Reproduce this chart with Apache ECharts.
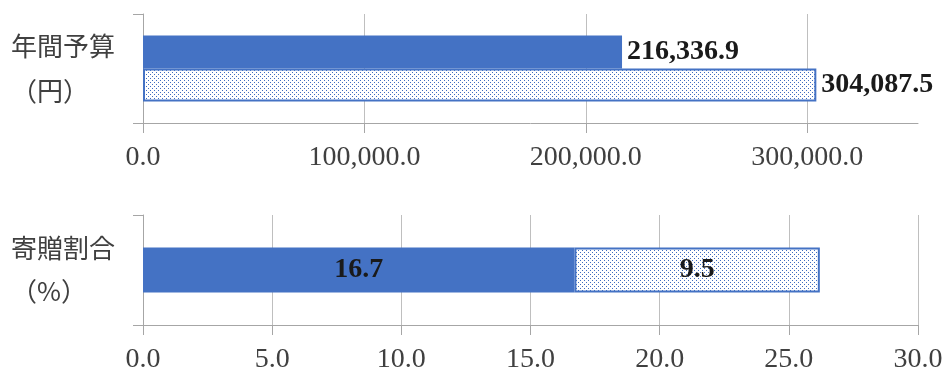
<!DOCTYPE html>
<html>
<head>
<meta charset="utf-8">
<script src="https://cdn.jsdelivr.net/npm/echarts@6/dist/echarts.min.js"></script>
<style>
  html, body { margin: 0; padding: 0; background: #fff; }
  #chart { width: 946px; height: 374px; }
</style>
</head>
<body>
<div id="chart"></div>
<script>
// Annual budget panel (yen)
const budgetCategory = ['年間予算\n（円）'];
const budgetSolid = [216336.9];
const budgetDotted = [304087.5];
const budgetTicks = [0, 100000, 200000, 300000];

// Donation ratio panel (%)
const ratioCategory = ['寄贈割合\n（%）'];
const ratioSolid = [16.7];
const ratioDotted = [9.5];
const ratioTicks = [0, 5, 10, 15, 20, 25, 30];

const BLUE = '#4472C4';
const AXIS = '#A6A6A6';
const GRID = '#BFBFBF';
const SERIF = '"Liberation Serif", "DejaVu Serif", serif';
const SANS = '"Noto Sans CJK JP", "Noto Sans", sans-serif';

// Small dotted fill tile for the patterned bars
function dotTile() {
  const c = document.createElement('canvas');
  c.width = 4; c.height = 4;
  const g = c.getContext('2d');
  g.fillStyle = '#ffffff';
  g.fillRect(0, 0, 4, 4);
  g.fillStyle = '#3f6cc0';
  g.fillRect(0, 0, 1, 1);
  g.fillRect(2, 2, 1, 1);
  return c;
}
const dotted = { image: dotTile(), repeat: 'repeat' };

const fmt = v => Number(v).toLocaleString('en-US', { minimumFractionDigits: 1, maximumFractionDigits: 1 });

function valueAxis(gridIndex, max, interval, ticks) {
  return {
    type: 'value', gridIndex, min: 0, max, interval,
    axisLine: { show: true, lineStyle: { color: AXIS, width: 1 } },
    axisTick: { show: true, length: 10, lineStyle: { color: AXIS, width: 1 }, customValues: ticks },
    splitLine: { show: true, lineStyle: { color: GRID, width: 1 } },
    axisLabel: {
      customValues: ticks,
      fontFamily: SERIF, fontSize: 28, color: '#404040', margin: 21,
      formatter: fmt
    }
  };
}

function categoryAxis(gridIndex, data, lineHeight) {
  return {
    type: 'category', gridIndex, data, inverse: true,
    axisLine: { show: true, lineStyle: { color: AXIS, width: 1 } },
    axisTick: { show: true, length: 10, lineStyle: { color: AXIS, width: 1 } },
    axisLabel: {
      align: 'left', margin: 132, fontFamily: SANS, fontSize: 26,
      color: '#404040', lineHeight
    }
  };
}

const valueLabel = (position, distance) => ({
  show: true, position, distance,
  fontFamily: SERIF, fontSize: 28, fontWeight: 'bold', color: '#1a1a1a',
  formatter: p => fmt(p.value)
});

const chart = echarts.init(document.getElementById('chart'), null, { renderer: 'canvas' });
chart.setOption({
  animation: false,
  backgroundColor: '#ffffff',
  grid: [
    { left: 143, right: 28, top: 14, height: 109 },
    { left: 143, right: 28, top: 215, height: 110 }
  ],
  xAxis: [
    valueAxis(0, 350000, 100000, budgetTicks),
    valueAxis(1, 30, 5, ratioTicks)
  ],
  yAxis: [
    categoryAxis(0, budgetCategory, 45),
    categoryAxis(1, ratioCategory, 43)
  ],
  series: [
    {
      name: 'budget-solid', type: 'bar', xAxisIndex: 0, yAxisIndex: 0,
      data: budgetSolid, barWidth: 33, barGap: '0%',
      itemStyle: { color: BLUE },
      label: valueLabel('right', 5)
    },
    {
      name: 'budget-dotted', type: 'bar', xAxisIndex: 0, yAxisIndex: 0,
      data: budgetDotted, barWidth: 33, barGap: '0%',
      itemStyle: { color: dotted, borderColor: BLUE, borderWidth: 2 },
      label: valueLabel('right', 5)
    },
    {
      name: 'ratio-solid', type: 'bar', xAxisIndex: 1, yAxisIndex: 1, stack: 'ratio',
      data: ratioSolid, barWidth: 45,
      itemStyle: { color: BLUE },
      label: valueLabel('inside', 0)
    },
    {
      name: 'ratio-dotted', type: 'bar', xAxisIndex: 1, yAxisIndex: 1, stack: 'ratio',
      data: ratioDotted, barWidth: 45,
      itemStyle: { color: dotted, borderColor: BLUE, borderWidth: 2 },
      label: valueLabel('inside', 0)
    }
  ]
});
</script>
</body>
</html>
